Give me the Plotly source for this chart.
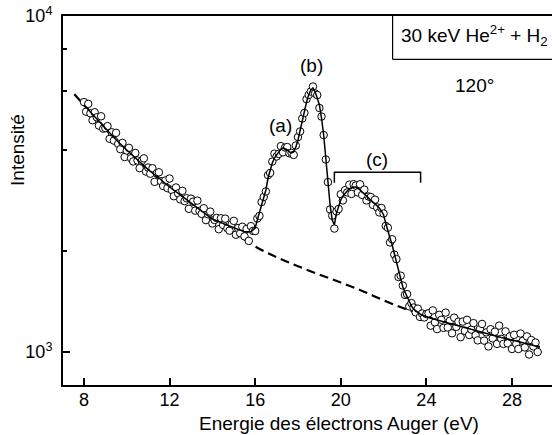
import numpy as np
import plotly.graph_objects as go

# ---- measured spectrum (open circles), energy grid 8.0 .. 29.2 eV, step 0.1 eV
E_START = 8.0
E_STEP = 0.1
counts = [
    5543, 5190, 5476, 5133, 4896, 5171, 4994, 4719, 5030, 4621,
    4640, 4702, 4310, 4508, 4258, 4490, 4163, 4014, 4192, 3805,
    3979, 4051, 3773, 3691, 3910, 3715, 3525, 3703, 3770, 3444,
    3540, 3393, 3523, 3209, 3404, 3427, 3222, 3119, 3239, 3074,
    3284, 3035, 2909, 3088, 2965, 2846, 3018, 2813, 2868, 2668,
    2861, 2802, 2635, 2822, 2631, 2577, 2678, 2469, 2570, 2617,
    2413, 2472, 2506, 2320, 2501, 2389, 2494, 2335, 2297, 2401,
    2456, 2234, 2338, 2257, 2359, 2210, 2324, 2141, 2369, 2293,
    2292,
    2496, 2541, 2794, 2894, 3005, 3361, 3411, 3688, 3892, 3819,
    3886, 4100, 3929, 4060, 4073, 3901, 3912, 3861, 4116, 4362,
    4533, 4952, 5146, 5658, 5823, 5960, 6166, 5881, 5816, 5325,
    5020, 4424, 3741, 3204, 2657, 2545, 2330, 2619, 2666, 2948,
    2826, 3032, 2985, 3148, 2954, 3160, 3129, 2985, 3156, 2934,
    3043, 2826, 2903, 2892, 2740, 2840, 2693, 2603, 2682, 2583,
    2372, 2343, 2118, 2165, 1950, 1890, 1672, 1687, 1577, 1479,
    1487, 1367, 1398, 1356, 1312, 1346, 1272, 1302, 1267, 1297,
    1304, 1198, 1330, 1225, 1170, 1290, 1247, 1180, 1310, 1183,
    1239, 1137, 1265, 1188, 1231, 1107, 1232, 1156, 1247, 1124,
    1166, 1219, 1122, 1083, 1170, 1212, 1081, 1144, 1039, 1169,
    1098, 1149, 1057, 1198, 1094, 1057, 1152, 1061, 1112, 1021,
    1125, 1057, 1021, 1135, 1079, 1032, 1113, 983, 1085, 1039,
    1067, 1000,
]
energy = np.round(E_START + E_STEP * np.arange(len(counts)), 2)

# ---- smoothed curve (solid line)
fit_x = [8.0, 8.5, 9.0, 9.5, 10.0, 10.5, 11.0, 11.5, 12.0, 12.5, 13.0, 13.5,
         14.0, 14.5, 15.0, 15.5, 15.8,
         16.0, 16.1, 16.2, 16.3, 16.4, 16.5, 16.6, 16.7, 16.8, 16.9,
         17.0, 17.1, 17.2, 17.3, 17.4, 17.5, 17.6, 17.7, 17.8, 17.9,
         18.0, 18.1, 18.2, 18.3, 18.4, 18.5, 18.6, 18.7, 18.8, 18.9,
         19.0, 19.1, 19.2, 19.3, 19.4, 19.5, 19.6, 19.7, 19.8, 19.9,
         20.0, 20.1, 20.2, 20.3, 20.4, 20.5, 20.6, 20.7, 20.8, 20.9,
         21.0, 21.1, 21.2, 21.3, 21.4, 21.5, 21.6, 21.7, 21.8, 21.9,
         22.0, 22.1, 22.2, 22.3, 22.4, 22.5, 22.6, 22.7, 22.8, 22.9,
         23.0, 23.1, 23.2, 23.3, 23.4, 23.5, 23.6, 23.7, 23.8, 23.9,
         24.0, 24.5, 25.0, 25.5, 26.0, 26.5, 27.0, 27.5, 28.0, 28.5, 29.0, 29.3]
fit_y = [5434, 5020, 4640, 4280, 3990, 3730, 3490, 3295, 3098, 2934, 2778, 2630,
         2488, 2413, 2339, 2278, 2278,
         2339, 2471, 2593, 2739, 2894, 3035, 3295, 3481, 3651, 3779,
         3858, 3965, 4020, 4050, 4020, 3993, 3940, 3912, 3940, 4075,
         4276, 4579, 4903, 5251, 5547, 5823, 6020, 6105, 5940, 5702,
         5434, 4970, 4424, 3779, 3141, 2739, 2471, 2388, 2593, 2720,
         2835, 2913, 2973, 3015, 3056, 3077, 3098, 3098, 3077, 3035,
         2994, 2954, 2913, 2874, 2835, 2796, 2757, 2720, 2683, 2629,
         2557, 2420, 2275, 2184, 2082, 1970, 1853, 1742, 1638, 1561,
         1509, 1458, 1409, 1371, 1343, 1325, 1307, 1298, 1289, 1280,
         1272, 1245, 1220, 1195, 1171, 1147, 1124, 1105, 1086, 1068, 1049, 1035]

# ---- background (dashed)
bg_x = [7.55, 8, 9, 10, 11, 12, 13, 14, 15, 16, 17, 18, 19, 20, 21, 22, 23, 24,
        25, 26, 27, 28, 29, 29.3]
bg_y = [5850, 5434, 4600, 3990, 3480, 3098, 2778, 2488, 2270, 2060, 1915, 1800,
        1700, 1610, 1520, 1425, 1345, 1278, 1220, 1171, 1124, 1086, 1049, 1035]

# ---- bracket for group (c)
bracket_x = [19.70, 19.70, 23.73, 23.73]
bracket_y = [3191, 3427, 3427, 3191]

FONT = "Arial, Liberation Sans, sans-serif"

fig = go.Figure()
fig.add_trace(go.Scatter(x=bg_x, y=bg_y, mode="lines",
                         line=dict(color="black", width=2.2, dash="9px,5px", shape="spline"),
                         hoverinfo="skip"))
fig.add_trace(go.Scatter(x=energy, y=counts, mode="markers",
                         marker=dict(symbol="circle", size=7.5, color="white",
                                     line=dict(color="black", width=1))))
fig.add_trace(go.Scatter(x=fit_x, y=fit_y, mode="lines",
                         line=dict(color="black", width=1.5)))
fig.add_trace(go.Scatter(x=bracket_x, y=bracket_y, mode="lines",
                         line=dict(color="black", width=1.5), hoverinfo="skip"))

fig.update_layout(
    width=552, height=435,
    margin=dict(l=63, r=0, t=16, b=50),
    paper_bgcolor="white", plot_bgcolor="white",
    showlegend=False,
    font=dict(family=FONT, size=18, color="black"),
)
fig.update_xaxes(range=[7.02, 29.87], tickmode="array", tickvals=[8, 12, 16, 20, 24, 28],
                 ticks="inside", ticklen=7, tickwidth=1.5, tickcolor="black",
                 ticklabelstandoff=-3,
                 showline=True, linewidth=2, linecolor="black", mirror=True,
                 showgrid=False, zeroline=False)
fig.update_yaxes(type="log", range=[2.9018, 4.0], tickmode="array",
                 tickvals=[1000, 10000], ticktext=["10<sup>3</sup>", "10<sup>4</sup>"],
                 ticks="inside", ticklen=7, tickwidth=1.5, tickcolor="black",
                 ticklabelstandoff=5,
                 showline=True, linewidth=2, linecolor="black",
                 showgrid=False, zeroline=False,
                 minor=dict(tickmode="array", tickvals=[2000, 4000, 6000, 8000],
                            ticks="inside", ticklen=4, tickwidth=1.5, tickcolor="black",
                            showgrid=False))

# legend-like box (left and bottom edges; top is the axis, right is outside the picture)
fig.add_shape(type="line", xref="paper", yref="paper", x0=0.674, x1=0.674, y0=0.8827, y1=1.0,
              line=dict(color="black", width=1.2))
fig.add_shape(type="line", xref="paper", yref="paper", x0=0.674, x1=1.0, y0=0.8827, y1=0.8827,
              line=dict(color="black", width=1.2))

ann = dict(xref="paper", yref="paper", showarrow=False, xanchor="center", yanchor="middle",
           font=dict(family=FONT, size=19, color="black"))
fig.add_annotation(text="30 keV He<sup>2+</sup> + H<sub>2</sub>", x=0.8425, y=0.9458, **ann)
fig.add_annotation(text="120°", x=0.8405, y=0.8103, **ann)
fig.add_annotation(text="(a)", x=0.4458, y=0.7046, **ann)
fig.add_annotation(text="(b)", x=0.5092, y=0.8645, **ann)
fig.add_annotation(text="(c)", x=0.6421, y=0.6098, **ann)
fig.add_annotation(text="Energie des électrons Auger (eV)", x=0.5654, y=-0.103, **ann)
fig.add_annotation(text="Intensité", x=-0.092, y=0.637, textangle=-90, **ann)

fig.write_html("out.html")
